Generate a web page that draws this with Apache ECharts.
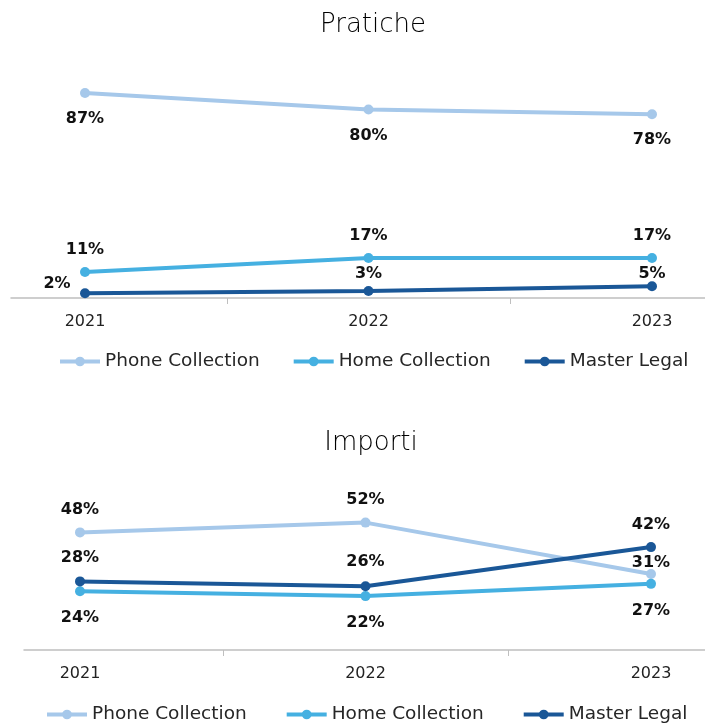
<!DOCTYPE html>
<html>
<head>
<meta charset="utf-8">
<script src="https://cdn.jsdelivr.net/npm/echarts@6/dist/echarts.min.js"></script>
<style>
html,body{margin:0;padding:0;background:#fff;}
#chart{width:705px;height:725px;}
</style>
</head>
<body>
<div id="chart"></div>
<script>
// ---- data ----
const categories = ['2021', '2022', '2023'];
const seriesNames = ['Phone Collection', 'Home Collection', 'Master Legal'];
const praticheTitle = 'Pratiche';
const importiTitle = 'Importi';
const pratichePhone = [87, 80, 78];
const praticheHome = [11, 17, 17];
const praticheMaster = [2, 3, 5];
const importiPhone = [48, 52, 31];
const importiHome = [24, 22, 27];
const importiMaster = [28, 26, 42];

// ---- styles ----
const colors = ['#A6C8EA', '#45B0E1', '#1A5797'];
const FONT = 'DejaVu Sans';

// label offsets (relative to point centre), per series per point
const offsTop = [
  [[0, 26], [0, 26], [0, 26]],
  [[0, -22], [0, -22], [0, -22]],
  [[-28, -9], [0, -17], [0, -12]]
];
const offsBottom = [
  [[0, -23], [0, -23], [0, -11]],
  [[0, 27], [0, 27], [0, 27]],
  [[0, -24], [0, -24], [0, -22]]
];

function mkSeries(values, idx, gridIdx, offs) {
  return {
    name: seriesNames[idx],
    type: 'line',
    xAxisIndex: gridIdx,
    yAxisIndex: gridIdx,
    symbol: 'circle',
    symbolSize: 10,
    lineStyle: { width: 4, color: colors[idx] },
    itemStyle: { color: colors[idx] },
    data: values.map((v, i) => ({
      value: v,
      label: { offset: offs[idx][i] }
    })),
    label: {
      show: true,
      position: 'inside',
      formatter: '{c}%',
      color: '#111',
      fontFamily: FONT,
      fontWeight: 'bold',
      fontSize: 16
    },
    emphasis: { disabled: true },
    z: 3 + idx
  };
}

const mainX = (gridIdx) => ({
  type: 'category',
  gridIndex: gridIdx,
  data: categories,
  boundaryGap: true,
  axisLine: { show: false },
  axisTick: { show: true, length: 6, lineStyle: { color: '#BFBFBF', width: 1 } },
  axisLabel: { color: '#222', fontFamily: FONT, fontSize: 16, margin: 16 }
});
const lineX = (gridIdx) => ({
  type: 'category',
  gridIndex: gridIdx,
  data: [''],
  axisLine: { show: true, lineStyle: { color: '#BFBFBF', width: 1.5 } },
  axisTick: { show: false },
  axisLabel: { show: false }
});
const valY = (gridIdx, max) => ({
  type: 'value',
  gridIndex: gridIdx,
  min: 0,
  max: max,
  show: false,
  splitLine: { show: false }
});
const hidY = (gridIdx) => ({ type: 'value', gridIndex: gridIdx, show: false });

const legendCommon = {
  data: seriesNames,
  itemWidth: 40,
  itemHeight: 12,
  lineStyle: { width: 4 },
  textStyle: { fontFamily: FONT, fontSize: 18.5, color: '#262626' },
  selectedMode: false
};

const option = {
  animation: false,
  backgroundColor: '#fff',
  color: colors,
  title: [
    { text: praticheTitle, left: 368, top: 7, textAlign: 'center',
      textStyle: { fontFamily: FONT, fontSize: 26, fontWeight: 300, color: '#000' } },
    { text: importiTitle, left: 366, top: 425, textAlign: 'center',
      textStyle: { fontFamily: FONT, fontSize: 26, fontWeight: 300, color: '#000' } }
  ],
  legend: [
    Object.assign({ left: 53, top: 347, itemGap: 32 }, legendCommon),
    Object.assign({ left: 40, top: 700, itemGap: 38 }, legendCommon)
  ],
  grid: [
    { left: -56.75, width: 850.5, top: 62.4, bottom: 427, outerBoundsMode: 'none', containLabel: false },
    { left: -62.75, width: 856.5, top: 503, bottom: 75, outerBoundsMode: 'none', containLabel: false },
    { left: 11, right: 0, top: 62.4, bottom: 427, outerBoundsMode: 'none' },
    { left: 24, right: 0, top: 503, bottom: 75, outerBoundsMode: 'none' }
  ],
  xAxis: [mainX(0), mainX(1), lineX(2), lineX(3)],
  yAxis: [valY(0, 100), valY(1, 60), hidY(2), hidY(3)],
  series: [
    mkSeries(pratichePhone, 0, 0, offsTop),
    mkSeries(praticheHome, 1, 0, offsTop),
    mkSeries(praticheMaster, 2, 0, offsTop),
    mkSeries(importiPhone, 0, 1, offsBottom),
    mkSeries(importiHome, 1, 1, offsBottom),
    mkSeries(importiMaster, 2, 1, offsBottom)
  ]
};

const chart = echarts.init(document.getElementById('chart'), null, { renderer: 'canvas' });
chart.setOption(option);
</script>
</body>
</html>
